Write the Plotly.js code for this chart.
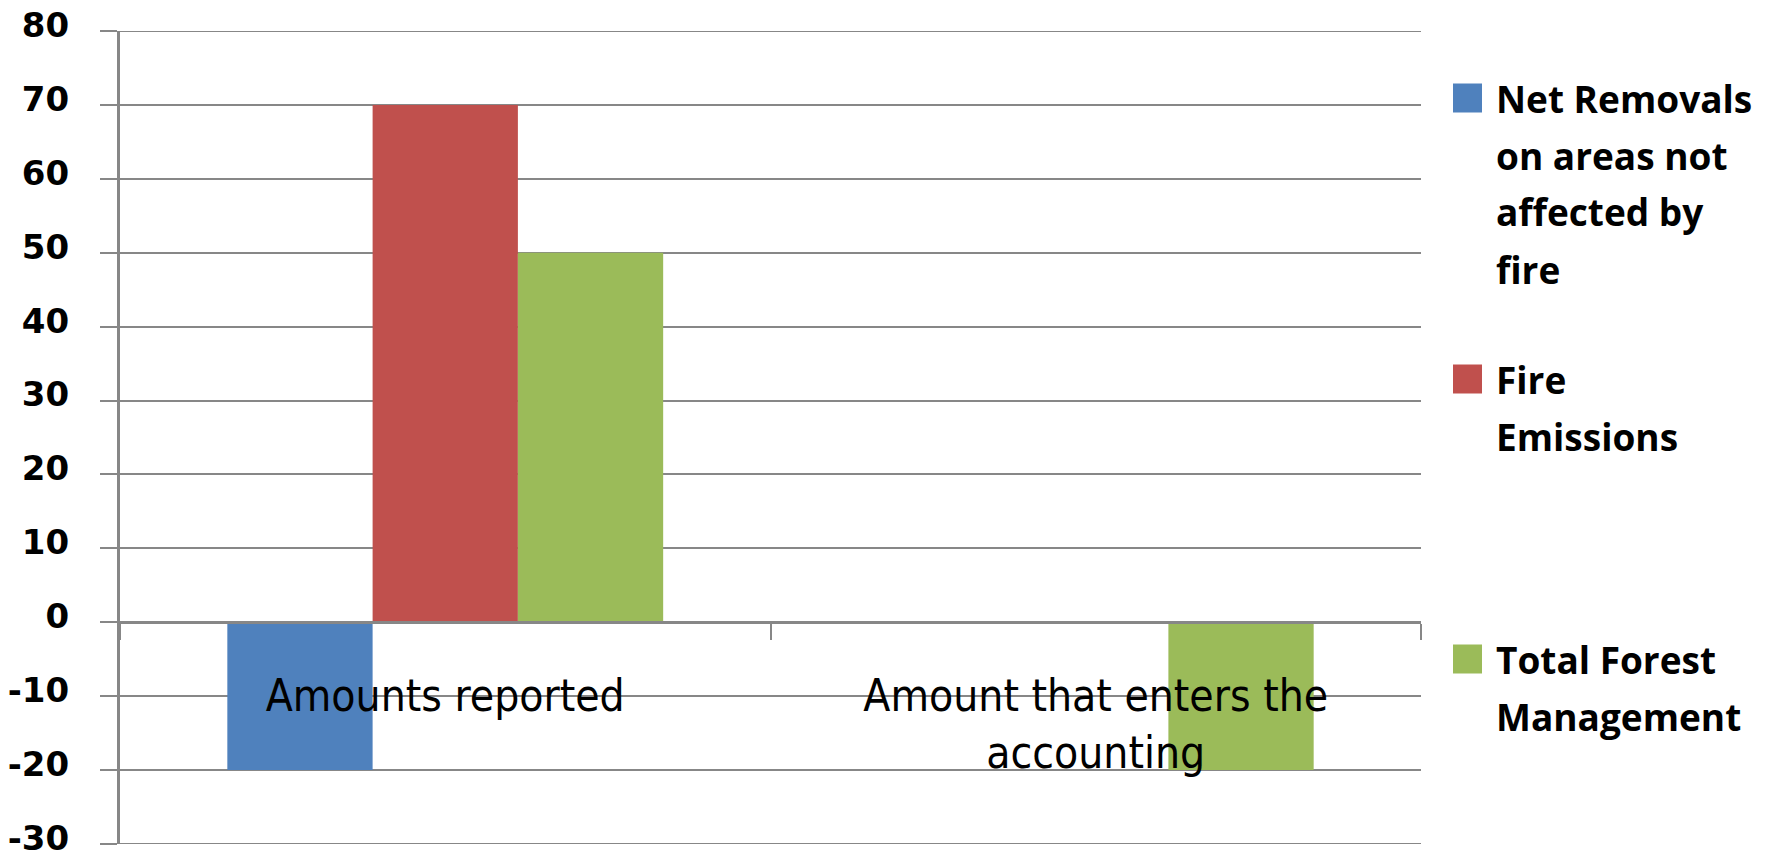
<!DOCTYPE html>
<html>
<head>
<meta charset="utf-8">
<script src="https://cdn.plot.ly/plotly-3.0.1.min.js"></script>
<style>
  html, body { margin: 0; padding: 0; background: #ffffff; }
  #chart { width: 1778px; height: 859px; }
</style>
</head>
<body>
<div id="chart"></div>
<script>
// ---- data ----
const categories = ["Amounts reported", "Amount that enters the<br>accounting"];
const seriesNames = ["Net Removals on areas not affected by fire", "Fire Emissions", "Total Forest Management"];
const legendLines = [
  ["Net Removals", "on areas not", "affected by", "fire"],
  ["Fire", "Emissions"],
  ["Total Forest", "Management"]
];
const netRemovals = [-20, 0];
const fireEmissions = [70, 0];
const totalForestManagement = [50, -20];
const yTickValues = [-30, -20, -10, 0, 10, 20, 30, 40, 50, 60, 70, 80];

// ---- styles / layout geometry (pixels) ----
const colors = ["#4F81BD", "#C0504D", "#9BBB59"];
const gridColor = "#878787";
const W = 1778, H = 859;
const M = { l: 120, r: 357, t: 31, b: 15 };
const plotW = W - M.l - M.r, plotH = H - M.t - M.b;
const pxX = px => (px - M.l) / plotW;
const pxY = py => (H - M.b - py) / plotH;

const legendFont = { family: "Open Sans, Lato, DejaVu Sans, sans-serif", size: 37, color: "#000000", weight: "bold" };
const legendFirstLineY = [98, 379, 659];   // pixel centre of each entry's first line
const legendLinePitch = 57;
const legendSwatch = 29;
const legendSwatchLeft = 1453;
const legendTextLeft = 1494;

const values = [netRemovals, fireEmissions, totalForestManagement];

const traces = values.map((v, i) => ({
  type: "bar",
  x: categories,
  y: v,
  name: seriesNames[i],
  marker: { color: colors[i], line: { width: 0 } },
  hoverinfo: "skip"
}));

const yMin = yTickValues[0];
const yMax = yTickValues[yTickValues.length - 1];

// legend drawn as swatches + text lines
const annotations = [];
const shapes = [yMin, yMax].map(v => ({
  type: "line", xref: "paper", yref: "y",
  x0: 0, x1: 1, y0: v, y1: v,
  line: { color: gridColor, width: 2 },
  layer: "below"
}));
legendLines.forEach((lines, i) => {
  const c = legendFirstLineY[i];
  shapes.push({
    type: "rect", xref: "paper", yref: "paper",
    x0: pxX(legendSwatchLeft), x1: pxX(legendSwatchLeft + legendSwatch),
    y0: pxY(c + legendSwatch / 2), y1: pxY(c - legendSwatch / 2),
    fillcolor: colors[i], line: { width: 0 }
  });
  lines.forEach((t, j) => {
    annotations.push({
      text: t, showarrow: false,
      xref: "paper", yref: "paper",
      x: pxX(legendTextLeft), y: pxY(c + j * legendLinePitch),
      xanchor: "left", yanchor: "middle", align: "left",
      font: legendFont
    });
  });
});

const layout = {
  width: W,
  height: H,
  margin: M,
  paper_bgcolor: "#ffffff",
  plot_bgcolor: "#ffffff",
  barmode: "group",
  bargap: 0.33,
  bargroupgap: 0,
  showlegend: false,
  xaxis: {
    type: "category",
    anchor: "free",
    position: (0 - yMin) / (yMax - yMin),
    showgrid: false,
    showline: true,
    linecolor: gridColor,
    linewidth: 3,
    ticks: "outside",
    tickson: "boundaries",
    ticklen: 16,
    tickwidth: 2,
    tickcolor: gridColor,
    ticklabelstandoff: 34,
    tickfont: { family: "Liberation Sans Narrow, DejaVu Sans Condensed, sans-serif", size: 44, color: "#000000" },
    fixedrange: true
  },
  yaxis: {
    range: [yMin, yMax],
    tickvals: yTickValues,
    ticktext: yTickValues.map(String),
    showgrid: true,
    gridcolor: gridColor,
    gridwidth: 2,
    zeroline: true,
    zerolinecolor: gridColor,
    zerolinewidth: 3,
    showline: true,
    linecolor: gridColor,
    linewidth: 3,
    ticks: "outside",
    ticklen: 17,
    tickwidth: 2,
    tickcolor: gridColor,
    ticklabelstandoff: 24,
    ticklabelshift: -6,
    ticklabeloverflow: "allow",
    tickfont: { family: "DejaVu Sans, Verdana, sans-serif", size: 34, color: "#000000", weight: "bold" },
    fixedrange: true
  },
  shapes: shapes,
  annotations: annotations
};

Plotly.newPlot("chart", traces, layout, { displayModeBar: false, staticPlot: true });
</script>
</body>
</html>
